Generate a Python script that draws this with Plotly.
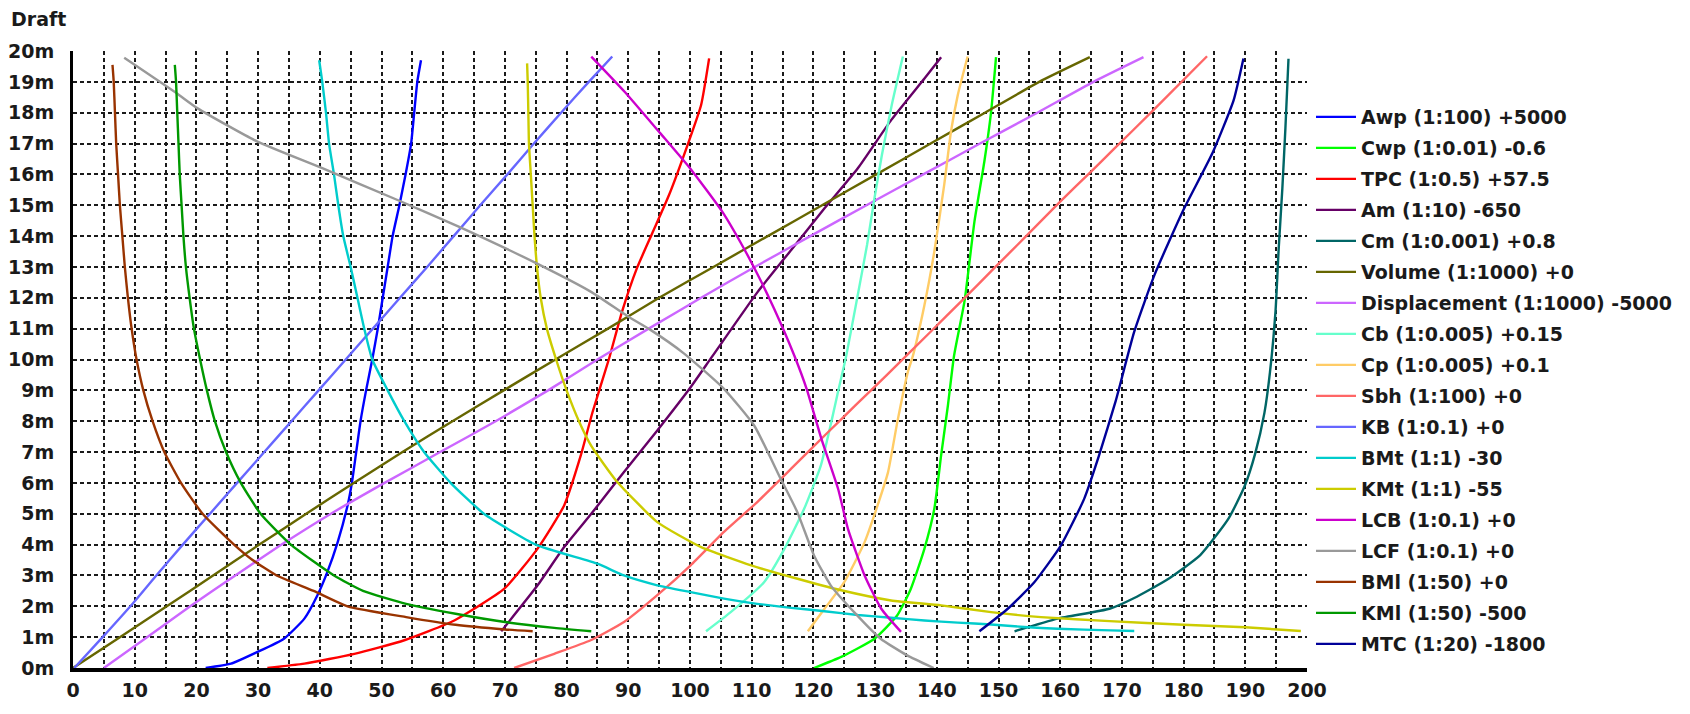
import plotly.graph_objects as go

# ---------------- data (chart units) ----------------
names = ["Awp (1:100) +5000", "Cwp (1:0.01) -0.6", "TPC (1:0.5) +57.5", "Am (1:10) -650",
         "Cm (1:0.001) +0.8", "Volume (1:1000) +0", "Displacement (1:1000) -5000",
         "Cb (1:0.005) +0.15", "Cp (1:0.005) +0.1", "Sbh (1:100) +0", "KB (1:0.1) +0",
         "BMt (1:1) -30", "KMt (1:1) -55", "LCB (1:0.1) +0", "LCF (1:0.1) +0",
         "BMl (1:50) +0", "KMl (1:50) -500", "MTC (1:20) -1800"]
colors = ["#0000FF", "#00FF00", "#FF0000", "#660066", "#006666", "#666600", "#CC66FF",
          "#66FFCC", "#FFCC66", "#FF6666", "#6666FF", "#00CCCC", "#CCCC00", "#CC00CC",
          "#999999", "#993300", "#009900", "#000099"]

awp_d = [0, 0.14, 0.52, 0.95, 1.6, 2.35, 3.1, 4.08, 5.27, 6, 7, 8, 9, 10, 11, 12, 13, 14, 15, 16, 17, 18, 19, 19.7]
awp_x = [21.5, 25.6, 29.9, 34.2, 37.5, 39.6, 41.2, 42.9, 44.5, 45.2, 45.9, 46.6, 47.5, 48.5, 49.4, 50.2, 51.0, 51.8, 52.9, 53.9, 54.8, 55.3, 55.8, 56.4]

cwp_d = [0, 0.36, 0.95, 1.71, 2.57, 3.87, 5.16, 6.89, 8.51, 10.13, 11.9, 14.47, 16.41, 18.03, 19.8]
cwp_x = [120.1, 124.5, 129.9, 133.6, 135.8, 138.0, 139.6, 140.7, 141.8, 142.8, 144.5, 146.1, 147.7, 148.8, 149.6]

tpc_d = [0, 0.14, 0.46, 0.9, 1.54, 2.57, 3.87, 5.27, 6.89, 8.29, 10.04, 11.56, 12.96, 14.1, 15.33, 16.95, 18.25, 19.76]
tpc_x = [31.5, 37.5, 45.6, 53.7, 61.8, 69.9, 75.3, 79.6, 82.3, 84.2, 86.9, 89.0, 91.4, 93.9, 96.6, 99.6, 101.8, 103.1]

am_d = [1.19, 2.68, 3.92, 5.0, 6.35, 7.7, 9.1, 10.1, 12.2, 13.55, 14.9, 16.2, 17.76, 19.11, 19.8]
am_x = [69.4, 75.3, 79.6, 84.0, 89.3, 94.7, 100.1, 103.6, 111.0, 116.4, 121.8, 127.2, 132.6, 138.0, 140.7]

cm_d = [1.19, 1.6, 1.92, 2.27, 2.86, 3.66, 4.85, 5.9, 6.95, 8.27, 9.59, 11.57, 13.55, 15.53, 17.5, 19.75]
cm_x = [152.6, 159.6, 168.0, 172.0, 177.3, 182.7, 187.3, 189.9, 191.6, 193.1, 194.0, 194.9, 195.4, 196.0, 196.5, 197.0]

vol_d = [0, 1, 2, 3, 4, 5, 6, 7, 8, 9, 10, 11, 12, 13, 14, 15, 16, 17, 18, 19, 19.8]
vol_x = [0, 7.6, 15.2, 22.7, 30.2, 37.8, 45.5, 53.4, 61.5, 69.8, 78.2, 86.7, 95.0, 103.8, 112.6, 121.4, 130.2, 139.0, 147.8, 156.6, 164.8]

disp_d = [0, 1, 2, 3, 4, 5, 6, 7, 8, 9, 10, 11, 12, 13, 14, 15, 16, 17, 18, 19, 19.8]
disp_x = [5, 12.0, 19.0, 26.3, 33.8, 41.8, 50.5, 59.5, 68.5, 77.0, 85.0, 93.3, 101.8, 110.5, 119.5, 128.6, 137.8, 147.0, 156.3, 165.4, 173.5]

cb_d = [1.19, 1.81, 2.78, 3.86, 5.16, 6.56, 7.97, 9.05, 10.1, 12.1, 13.72, 15.23, 16.63, 18.25, 19.82]
cb_x = [102.6, 106.6, 112.0, 115.3, 118.5, 121.2, 122.9, 124.1, 125.3, 127.2, 128.7, 129.9, 131.1, 132.7, 134.5]

cp_d = [1.19, 1.92, 2.78, 4.08, 5.27, 6.35, 7.97, 9.59, 10.1, 11.77, 13.5, 15.66, 17.39, 18.57, 19.82]
cp_x = [119.1, 121.8, 125.0, 128.3, 130.4, 132.1, 133.6, 135.3, 136.1, 138.0, 139.6, 141.2, 142.3, 143.4, 145.0]

sbh_d = [0, 0.46, 0.9, 1.49, 2.36, 3.33, 4.41, 5.38, 6.46, 7.65, 8.51, 9.48, 10.9, 11.93, 12.96, 13.98, 15.12, 16.09, 16.8, 18.04, 19.83]
sbh_x = [71.5, 78, 83.9, 89.3, 94.7, 100.1, 105.5, 110.9, 116.4, 122.4, 126.8, 131.8, 139.0, 144.2, 149.3, 154.4, 160.0, 165.0, 168.6, 174.9, 183.8]

kb_d = [0, 1, 2, 3, 4, 5, 6, 7, 8, 9, 10, 11, 12, 13, 14, 15, 16, 17, 18, 19, 19.82]
kb_x = [0.2, 4.8, 9.3, 13.5, 17.8, 22.2, 26.6, 31.0, 35.4, 39.8, 44.2, 48.6, 53.0, 57.4, 61.7, 66.0, 70.4, 74.7, 79.1, 83.6, 87.4]

bmt_d = [1.2, 1.22, 1.27, 1.33, 1.41, 1.47, 1.54, 1.63, 1.72, 1.84, 1.95, 2.08, 2.25, 2.46, 2.68, 3.0, 3.38, 4, 5, 6, 7, 8, 9, 10, 11, 12, 13, 14, 15, 16, 17, 18, 19, 19.7]
bmt_x = [172, 168.2, 159.6, 154.2, 148.8, 143.4, 138, 132.6, 127.2, 121.8, 116.4, 110.9, 105.5, 100.1, 94.7, 89.3, 85, 75, 66.6, 61.2, 56.9, 53.7, 51, 48.5, 47.2, 46.1, 45, 43.8, 43, 42.3, 41.5, 41, 40.4, 39.9]

kmt_d = [1.2, 1.32, 1.4, 1.52, 1.65, 1.81, 2.03, 2.19, 2.52, 2.95, 3.33, 3.92, 4.73, 6.08, 7.2, 8, 9, 10, 11, 12, 13, 14, 15, 16, 17, 18, 19, 19.6]
kmt_x = [199.0, 190, 180, 168.0, 156.9, 148.8, 140.7, 132.6, 124.5, 116.4, 109.9, 101.8, 94.7, 88.0, 84, 82, 80, 78.3, 76.8, 75.8, 75.2, 74.8, 74.5, 74.2, 73.9, 73.8, 73.7, 73.6]

lcb_d = [1.17, 1.92, 3.0, 4.51, 5.81, 7.43, 9.05, 10.13, 11.66, 12.74, 13.72, 14.8, 16.2, 17.33, 18.68, 19.82]
lcb_x = [134.2, 131.0, 128.3, 125.6, 124.0, 121.3, 118.9, 116.9, 113.6, 111.0, 108.4, 105.2, 100.0, 95.2, 89.4, 84.0]

lcf_d = [0, 0.41, 0.95, 1.81, 2.68, 3.65, 5.05, 6.13, 7.86, 9.05, 10.2, 10.96, 11.4, 12.2, 13.1, 14.3, 15.17, 16.2, 17.06, 18.14, 18.63, 19.78]
lcf_x = [139.5, 135.2, 130.9, 126.6, 122.8, 120.1, 117.4, 114.7, 110.4, 105.5, 99.0, 93.6, 89.9, 83.9, 75.3, 62.6, 52.6, 40.4, 29.9, 20.2, 16.8, 8.3]

bml_d = [1.19, 1.25, 1.4, 1.65, 2.0, 2.5, 3.0, 3.5, 4, 5, 6, 7, 8, 9, 10, 11, 12, 13, 14, 15, 16, 17, 18, 19, 19.55]
bml_x = [74.5, 70.0, 62.0, 54.0, 44.5, 39.0, 33.0, 29.1, 26.1, 21.0, 17.5, 14.8, 12.9, 11.4, 10.3, 9.5, 8.9, 8.4, 8.0, 7.6, 7.3, 7.0, 6.8, 6.6, 6.4]

kml_d = [1.19, 1.3, 1.49, 1.76, 2.08, 2.5, 3, 4, 5, 6, 7, 8, 9, 10, 11, 12, 13, 14, 15, 16, 17, 18, 19, 19.55]
kml_x = [84.0, 78.0, 70.0, 62.0, 54.0, 47.0, 42.3, 35.3, 30.4, 27.2, 24.8, 23.0, 21.7, 20.6, 19.6, 18.9, 18.3, 17.9, 17.6, 17.3, 17.1, 16.9, 16.7, 16.5]

mtc_d = [1.19, 1.92, 2.78, 3.97, 5.49, 6.89, 8.66, 10.9, 12.75, 14.86, 16.7, 18.4, 19.76]
mtc_x = [146.9, 151.5, 155.8, 160.1, 163.9, 166.3, 169.0, 172.0, 175.3, 180.0, 184.7, 188.1, 189.7]

x_ticks = list(range(0, 201, 10))
y_ticks = list(range(0, 21))
y_labels = [f"{v}m" for v in y_ticks]

series = [(awp_x, awp_d), (cwp_x, cwp_d), (tpc_x, tpc_d), (am_x, am_d), (cm_x, cm_d),
          (vol_x, vol_d), (disp_x, disp_d), (cb_x, cb_d), (cp_x, cp_d), (sbh_x, sbh_d),
          (kb_x, kb_d), (bmt_x, bmt_d), (kmt_x, kmt_d), (lcb_x, lcb_d), (lcf_x, lcf_d),
          (bml_x, bml_d), (kml_x, kml_d), (mtc_x, mtc_d)]

FONT = "DejaVu Sans"
TXT = "#1a1a1a"
W, H = 1674, 698          # page body has an 8px margin in the browser
L, T, PW, PH = 65, 43, 1234, 617

fig = go.Figure()
for i, ((xs, ds), name, col) in enumerate(zip(series, names, colors)):
    fig.add_trace(go.Scatter(x=xs, y=ds, mode="lines", name=name,
                             legendgroup=f"g{i}",
                             line=dict(color=col, width=2.4, shape="spline", smoothing=0.5)))

grid_style = dict(showgrid=True, gridcolor="#1a1a1a", gridwidth=1.6, griddash="4px,3px")

fig.update_layout(
    width=W, height=H,
    paper_bgcolor="white", plot_bgcolor="white",
    margin=dict(l=L, r=W - L - PW, t=T, b=H - T - PH, autoexpand=False),
    font=dict(family=FONT, size=19, color=TXT, weight="bold"),
    showlegend=True,
    legend=dict(xref="container", yref="container", x=1303 / W, y=1 - 90 / H,
                xanchor="left", yanchor="top", bgcolor="rgba(0,0,0,0)", borderwidth=0,
                tracegroupgap=3.3, itemwidth=40, maxheight=640,
                font=dict(family=FONT, size=19, color=TXT, weight="bold")),
    annotations=[dict(text="Draft", xref="paper", yref="paper", x=-64 / PW, y=(PH + 32) / PH,
                      xanchor="left", yanchor="middle", showarrow=False,
                      font=dict(family=FONT, size=19, color=TXT, weight="bold"))],
)

fig.update_xaxes(range=[0, 200], tickmode="array", tickvals=x_ticks, ticktext=[str(v) for v in x_ticks],
                 zeroline=False, showline=True, linecolor="black", linewidth=4,
                 ticks="", ticklabelstandoff=2, automargin=False,
                 minor=dict(dtick=5, tick0=0, **grid_style), **grid_style)
fig.update_yaxes(range=[0, 20], tickmode="array", tickvals=y_ticks, ticktext=y_labels,
                 zeroline=False, showline=True, linecolor="black", linewidth=3,
                 ticks="", ticklabelstandoff=12, automargin=False, **grid_style)

fig.write_html("out.html")
